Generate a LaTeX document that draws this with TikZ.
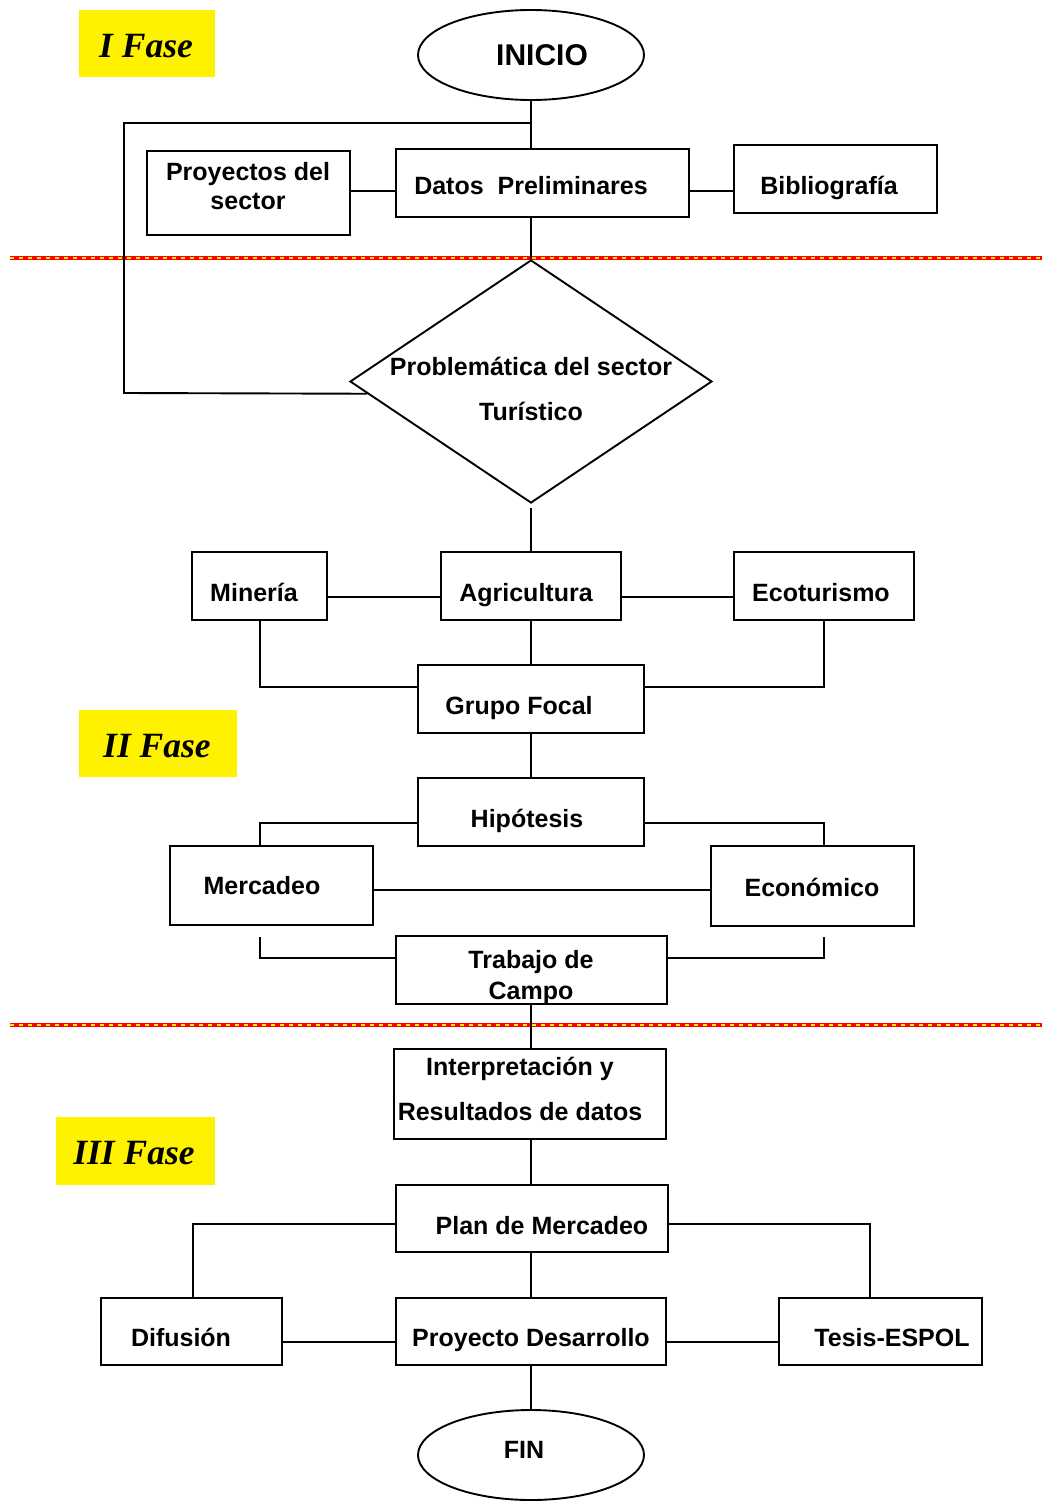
\documentclass[tikz,border=0pt]{standalone}
\usepackage{fontspec}
\setmainfont{Liberation Sans}
\newfontfamily\fasefont{Liberation Serif}
\usetikzlibrary{shapes.geometric,calc}
\begin{document}
\begin{tikzpicture}[x=1pt,y=-1pt,
 box/.style={draw, line width=1.5pt, inner sep=0pt, rectangle},
 txt/.style={font=\bfseries\fontsize{25}{29}\selectfont, inner sep=0pt, align=center},
 one/.style={txt, text height=18pt, text depth=5pt, yshift=-2pt},
 ln/.style={line width=1.9pt},
 fase/.style={fill=yellow, inner sep=0pt, font=\fasefont\bfseries\itshape\fontsize{35.5}{40}\selectfont},
 ell/.style={draw, ellipse, line width=1.9pt, inner sep=0pt, minimum width=226pt, minimum height=90pt}]
\useasboundingbox (0,0) rectangle (1042,1501);

% separator lines
\coordinate (s1a) at (10,258); \coordinate (s1b) at (1042,258);
\coordinate (s2a) at (10,1025); \coordinate (s2b) at (1042,1025);
\foreach \a/\b in {s1a/s1b,s2a/s2b}{
  \draw[red, line width=4pt] (\a) -- (\b);
  \draw[yellow, line width=1.4pt, dash pattern=on 4pt off 5pt] (\a) -- (\b);
}

% phase labels
\node[fase, minimum width=136pt, minimum height=67pt] (f1) at (147,43.5) {};
\node[fase, inner sep=0pt, fill=none] (f1t) at (146,46) {I Fase};
\node[fase, minimum width=158pt, minimum height=67pt] (f2) at (158,743.5) {};
\node[fase, fill=none] (f2t) at (157,746) {II Fase};
\node[fase, minimum width=159pt, minimum height=68pt] (f3) at (135.5,1151) {};
\node[fase, fill=none] (f3t) at (134,1153) {III Fase};

% start / end
\node[ell] (ini) at (531,55) {};
\node[txt, font=\bfseries\fontsize{30}{33}\selectfont] (init) at (542,55) {INICIO};
\node[ell] (fin) at (531,1455) {};
\node[one] (fint) at (524,1450) {FIN};

% Phase I boxes
\node[box, minimum width=203pt, minimum height=84pt] (proy) at (248.5,193) {};
\node[txt] (proyt) at (248,186) {Proyectos del\\sector};
\node[box, minimum width=293pt, minimum height=68pt] (datos) at (542.5,183) {};
\node[one] (datost) at (531,186) {Datos\ \ Preliminares};
\node[box, minimum width=203pt, minimum height=68pt] (bib) at (835.5,179) {};
\node[one] (bibt) at (829,186) {Bibliografía};

% diamond
\node[draw, diamond, line width=1.9pt, inner sep=0pt, minimum width=362pt, minimum height=243pt] (dia) at (531,381.5) {};
\node[one] (diat1) at (531,367) {Problemática del sector};
\node[one] (diat2) at (531,412) {Turístico};

% Phase II boxes
\node[box, minimum width=135pt, minimum height=68pt] (min) at (259.5,586) {};
\node[one] (mint) at (254,593) {Minería};
\node[box, minimum width=180pt, minimum height=68pt] (agr) at (531,586) {};
\node[one] (agrt) at (526,593) {Agricultura};
\node[box, minimum width=180pt, minimum height=68pt] (eco) at (824,586) {};
\node[one] (ecot) at (821,593) {Ecoturismo};
\node[box, minimum width=226pt, minimum height=68pt] (gru) at (531,699) {};
\node[one] (grut) at (519,706) {Grupo Focal};
\node[box, minimum width=226pt, minimum height=68pt] (hip) at (531,812) {};
\node[one] (hipt) at (527,819) {Hipótesis};
\node[box, minimum width=203pt, minimum height=79pt] (mer) at (271.5,885.5) {};
\node[one] (mert) at (262,886) {Mercadeo};
\node[box, minimum width=203pt, minimum height=80pt] (ecn) at (812.5,886) {};
\node[one] (ecnt) at (812,888) {Económico};
\node[box, minimum width=271pt, minimum height=68pt] (tra) at (531.5,970) {};
\node[txt, font=\bfseries\fontsize{25}{31}\selectfont] (trat) at (531,977.5) {Trabajo de\\Campo};

% Phase III boxes
\node[box, minimum width=272pt, minimum height=90pt] (int) at (530,1094) {};
\node[txt, font=\bfseries\fontsize{25}{45}\selectfont] (intt) at (520,1089) {Interpretación y\\Resultados de datos};
\node[box, minimum width=272pt, minimum height=67pt] (plan) at (532,1218.5) {};
\node[one] (plant) at (542,1226) {Plan de Mercadeo};
\node[box, minimum width=181pt, minimum height=67pt] (dif) at (191.5,1331.5) {};
\node[one] (dift) at (181,1338) {Difusión};
\node[box, minimum width=270pt, minimum height=67pt] (pro) at (531,1331.5) {};
\node[one] (prot) at (531,1338) {Proyecto Desarrollo};
\node[box, minimum width=203pt, minimum height=67pt] (tes) at (880.5,1331.5) {};
\node[one] (test) at (892,1338) {Tesis-ESPOL};

% coordinates for connectors
\coordinate (lp1) at (531,123);
\coordinate (lp2) at (124,123);
\coordinate (lp3) at (124,393);
\coordinate (lp4) at ($(dia.west)!0.1!(dia.south)$);
\coordinate (dgap) at (531,508);
\coordinate (m1) at (260,687);
\coordinate (e1) at (824,687);
\coordinate (h1) at (260,823);
\coordinate (h2) at (824,823);
\coordinate (mb) at (260,937);
\coordinate (mc) at (260,958);
\coordinate (eb) at (824,937);
\coordinate (ec) at (824,958);
\coordinate (p1) at (193,1224);
\coordinate (p2) at (870,1224);

% Phase I connectors
\draw[ln] (ini.south) -- (ini.south |- datos.north);
\draw[ln] (lp1) -- (lp2) -- (lp3) -- (lp4);
\draw[ln] (proy.east |- 0,191) -- (datos.west |- 0,191);
\draw[ln] (datos.east |- 0,191) -- (bib.west |- 0,191);
\draw[ln] (ini.south |- datos.south) -- (dia.north);

% Phase II connectors
\draw[ln] (dgap) -- (dgap |- agr.north);
\draw[ln] (min.east |- 0,597) -- (agr.west |- 0,597);
\draw[ln] (agr.east |- 0,597) -- (eco.west |- 0,597);
\draw[ln] (agr.south) -- (gru.north);
\draw[ln] (m1 |- min.south) -- (m1) -- (m1 -| gru.west);
\draw[ln] (e1 |- eco.south) -- (e1) -- (e1 -| gru.east);
\draw[ln] (gru.south) -- (hip.north);
\draw[ln] (h1 -| hip.west) -- (h1) -- (h1 |- mer.north);
\draw[ln] (h2 -| hip.east) -- (h2) -- (h2 |- ecn.north);
\draw[ln] (mer.east |- 0,890) -- (ecn.west |- 0,890);
\draw[ln] (mb) -- (mc) -- (mc -| tra.west);
\draw[ln] (eb) -- (ec) -- (ec -| tra.east);
\draw[ln] (ini.south |- tra.south) -- (ini.south |- int.north);

% Phase III connectors
\draw[ln] (ini.south |- int.south) -- (ini.south |- plan.north);
\draw[ln] (p1 -| plan.west) -- (p1) -- (p1 |- dif.north);
\draw[ln] (p2 -| plan.east) -- (p2) -- (p2 |- tes.north);
\draw[ln] (ini.south |- plan.south) -- (pro.north);
\draw[ln] (dif.east |- 0,1342) -- (pro.west |- 0,1342);
\draw[ln] (pro.east |- 0,1342) -- (tes.west |- 0,1342);
\draw[ln] (pro.south) -- (fin.north);
\end{tikzpicture}
\end{document}
